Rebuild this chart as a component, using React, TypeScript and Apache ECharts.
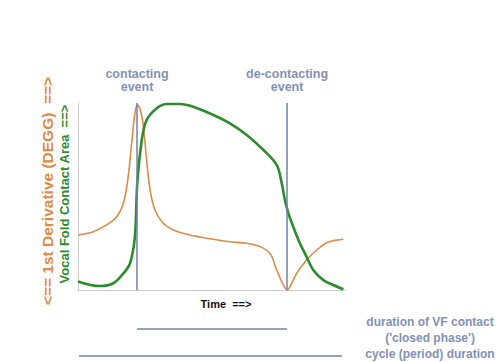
import React, { useEffect, useRef } from "react";
import * as echarts from "echarts";

// Time (0..100 = plotted span), values in % of plot height
const contactTime = [0, 8.2, 13.2, 17.0, 19.5, 21.3, 22.2, 23.9, 25.7, 29.5, 33.2, 38.2, 43.2, 50.7, 56.9, 63.2, 69.4, 74.4, 76.3, 77.5, 78.8, 80.6, 83.1, 85.6, 88.1, 91.9, 95.6, 99.4];
const contactArea = [4.6, 2.1, 3.6, 8.9, 14.3, 28.5, 57.1, 80.2, 90.9, 97.2, 99.5, 99.5, 98.0, 93.6, 89.1, 82.9, 74.9, 66.9, 57.1, 48.1, 41.0, 33.9, 25.0, 17.8, 10.7, 5.3, 2.7, 0.4];

const deggTime = [0, 5.7, 10.7, 14.5, 17.0, 18.8, 20.1, 21.3, 22.2, 23.2, 24.5, 25.7, 27.0, 28.8, 31.9, 35.7, 41.9, 50.7, 56.9, 63.2, 68.2, 71.9, 74.4, 76.9, 78.4, 80.0, 81.9, 85.6, 89.4, 93.1, 95.6, 99.4];
const deggValue = [29.4, 31.2, 34.8, 39.2, 46.4, 60.6, 78.5, 94.5, 98.9, 97.2, 87.3, 69.5, 53.5, 42.8, 35.7, 32.1, 29.4, 27.1, 25.8, 25.0, 23.2, 19.6, 10.7, 2.7, 0, 3.6, 8.9, 16.0, 21.4, 25.3, 26.4, 27.1];

const eventTimes = [22.1, 78.3];
const eventLabels = ["contacting\nevent", "de-contacting\nevent"];

const durationLabels = ["duration of VF contact\n('closed phase')", "cycle (period) duration"];

export default function App() {
  const ref = useRef<HTMLDivElement>(null);
  useEffect(() => {
    document.body.style.margin = "0";
    const chart = echarts.init(ref.current!, null, { renderer: "svg" });
    const slate = "#6f80aa";
    const labelColor = "#8391b6";
    const font = "Liberation Sans, Arial, sans-serif";
    chart.setOption({
      animation: false,
      backgroundColor: "#ffffff",
      grid: { left: 78, right: 153, top: 103, bottom: 72 },
      xAxis: {
        type: "value",
        min: 0,
        max: 100,
        axisLine: { show: true, lineStyle: { color: "#cccccc", width: 1 } },
        axisTick: { show: false },
        axisLabel: { show: false },
        splitLine: { show: false },
      },
      yAxis: {
        type: "value",
        min: 0,
        max: 100,
        axisLine: { show: true, lineStyle: { color: "#cccccc", width: 1 } },
        axisTick: { show: false },
        axisLabel: { show: false },
        splitLine: { show: false },
      },
      series: [
        {
          type: "line",
          data: deggTime.map((t, i) => [t, deggValue[i]]),
          smooth: 0.35,
          showSymbol: false,
          lineStyle: { color: "#df8a45", width: 1.6 },
          z: 3,
        },
        {
          type: "line",
          data: contactTime.map((t, i) => [t, contactArea[i]]),
          smooth: 0.35,
          showSymbol: false,
          lineStyle: { color: "#2b8c2e", width: 2.6 },
          z: 4,
          markLine: {
            silent: true,
            symbol: "none",
            lineStyle: { color: slate, width: 1.5, type: "solid" },
            label: {
              show: true,
              position: "end",
              distance: 10,
              color: labelColor,
              fontWeight: "bold",
              fontSize: 12.5,
              lineHeight: 13,
              fontFamily: font,
              formatter: (p: any) => eventLabels[p.dataIndex],
            },
            data: eventTimes.map((t) => ({ xAxis: t })),
          },
        },
      ],
      graphic: [
        {
          type: "text",
          x: 226,
          y: 304,
          style: {
            text: "Time  ==>",
            fill: "#111111",
            font: `bold 11px ${font}`,
            textAlign: "center",
            textVerticalAlign: "middle",
          },
        },
        {
          type: "text",
          x: 47,
          y: 191,
          rotation: Math.PI / 2,
          style: {
            text: "<== 1st Derivative (DEGG)  ==>",
            fill: "#df8a45",
            font: `bold 15.5px ${font}`,
            textAlign: "center",
            textVerticalAlign: "middle",
          },
        },
        {
          type: "text",
          x: 64,
          y: 194,
          rotation: Math.PI / 2,
          style: {
            text: "Vocal Fold Contact Area  ==>",
            fill: "#2b8c2e",
            font: `bold 13px ${font}`,
            textAlign: "center",
            textVerticalAlign: "middle",
          },
        },
        {
          type: "line",
          shape: { x1: 137, y1: 329, x2: 287, y2: 329 },
          style: { stroke: slate, lineWidth: 1.5 },
        },
        {
          type: "line",
          shape: { x1: 79, y1: 356, x2: 342, y2: 356 },
          style: { stroke: slate, lineWidth: 1.5 },
        },
        {
          type: "text",
          x: 430,
          y: 330,
          style: {
            text: durationLabels[0],
            fill: labelColor,
            font: `bold 12px ${font}`,
            lineHeight: 16,
            textAlign: "center",
            textVerticalAlign: "middle",
          },
        },
        {
          type: "text",
          x: 430,
          y: 354,
          style: {
            text: durationLabels[1],
            fill: labelColor,
            font: `bold 12px ${font}`,
            textAlign: "center",
            textVerticalAlign: "middle",
          },
        },
      ],
    });
    return () => chart.dispose();
  }, []);
  return <div ref={ref} style={{ width: 498, height: 362 }} />;
}
